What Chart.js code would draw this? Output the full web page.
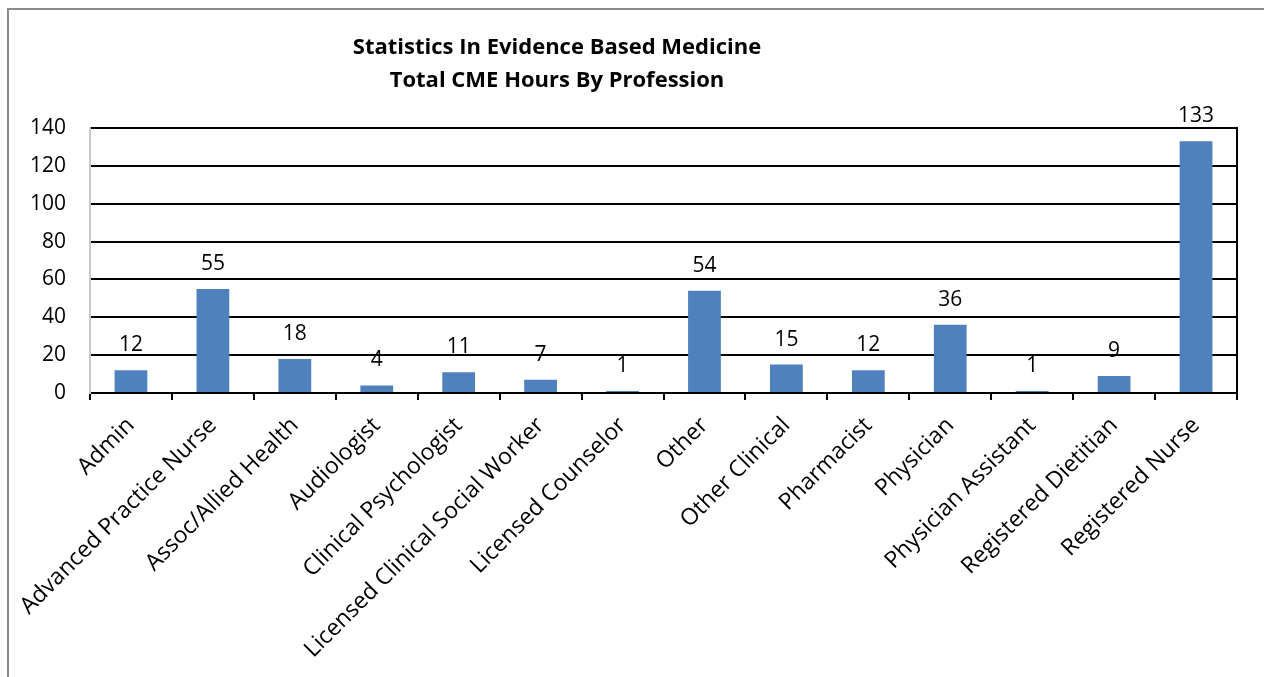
<!DOCTYPE html>
<html><head><meta charset="utf-8">
<script src="https://cdn.jsdelivr.net/npm/chart.js@4"></script>
<style>html,body{margin:0;padding:0;background:#fff;}#wrap{width:1264px;height:677px;}</style>
</head><body><div id="wrap"><canvas id="c" width="1264" height="677"></canvas></div>
<script>
const titleLines = ["Statistics In Evidence Based Medicine", "Total CME Hours By Profession"];
const categories = ["Admin","Advanced Practice Nurse","Assoc/Allied Health","Audiologist","Clinical Psychologist","Licensed Clinical Social Worker","Licensed Counselor","Other","Other Clinical","Pharmacist","Physician","Physician Assistant","Registered Dietitian","Registered Nurse"];
const hours = [12,55,18,4,11,7,1,54,15,12,36,1,9,133];
const yTicks = [0,20,40,60,80,100,120,140];

const FONT = "'Open Sans'";

const decor = {
  id: 'decor',
  beforeDraw(chart) {
    const ctx = chart.ctx;
    ctx.save();
    ctx.strokeStyle = '#8c8c8c';
    ctx.lineWidth = 2;
    ctx.strokeRect(8, 9, 1300, 700);
    ctx.restore();
  },
  afterDatasetsDraw(chart) {
    const ctx = chart.ctx;
    const a = chart.chartArea;
    ctx.save();
    ctx.strokeStyle = '#000';
    ctx.lineWidth = 2;
    ctx.beginPath();
    ctx.moveTo(a.right, a.top - 1);
    ctx.lineTo(a.right, a.bottom + 7);
    ctx.stroke();
    ctx.fillStyle = '#000';
    ctx.font = '21px ' + FONT;
    ctx.textAlign = 'center';
    ctx.textBaseline = 'middle';
    const meta = chart.getDatasetMeta(0);
    meta.data.forEach((bar, i) => {
      ctx.fillText(String(chart.data.datasets[0].data[i]), bar.x, bar.y - 25);
    });
    ctx.font = 'bold 22px ' + FONT;
    ctx.fillText(titleLines[0], 557, 48);
    ctx.fillText(titleLines[1], 557, 81);
    ctx.restore();
  }
};

new Chart(document.getElementById('c'), {
  type: 'bar',
  data: {
    labels: categories,
    datasets: [{
      data: hours,
      backgroundColor: '#4F81BD',
      borderWidth: 0,
      barPercentage: 0.4,
      categoryPercentage: 1.0
    }]
  },
  options: {
    responsive: false,
    animation: false,
    layout: { padding: { left: 0, right: 27, top: 128, bottom: 0 } },
    plugins: { legend: { display: false }, title: { display: false }, tooltip: { enabled: false } },
    scales: {
      x: {
        offset: true,
        grid: { display: true, drawOnChartArea: false, drawTicks: true, tickLength: 7, color: '#000', lineWidth: 2, offset: true },
        border: { display: true, color: '#000', width: 2 },
        ticks: { color: '#000', font: { family: FONT, size: 23 }, minRotation: 45, maxRotation: 45, autoSkip: false, padding: 12 },
        afterFit(s) { s.height = 284; }
      },
      y: {
        min: 0, max: 140,
        afterBuildTicks(s) { s.ticks = yTicks.map(v => ({ value: v })); },
        grid: { color: '#000', lineWidth: 2, drawTicks: false },
        border: { display: true, color: '#c8c8c8', width: 2 },
        ticks: { color: '#000', font: { family: FONT, size: 21 }, padding: 24 },
        afterFit(s) { s.width = 90; }
      }
    }
  },
  plugins: [decor]
});
</script>
</body></html>
